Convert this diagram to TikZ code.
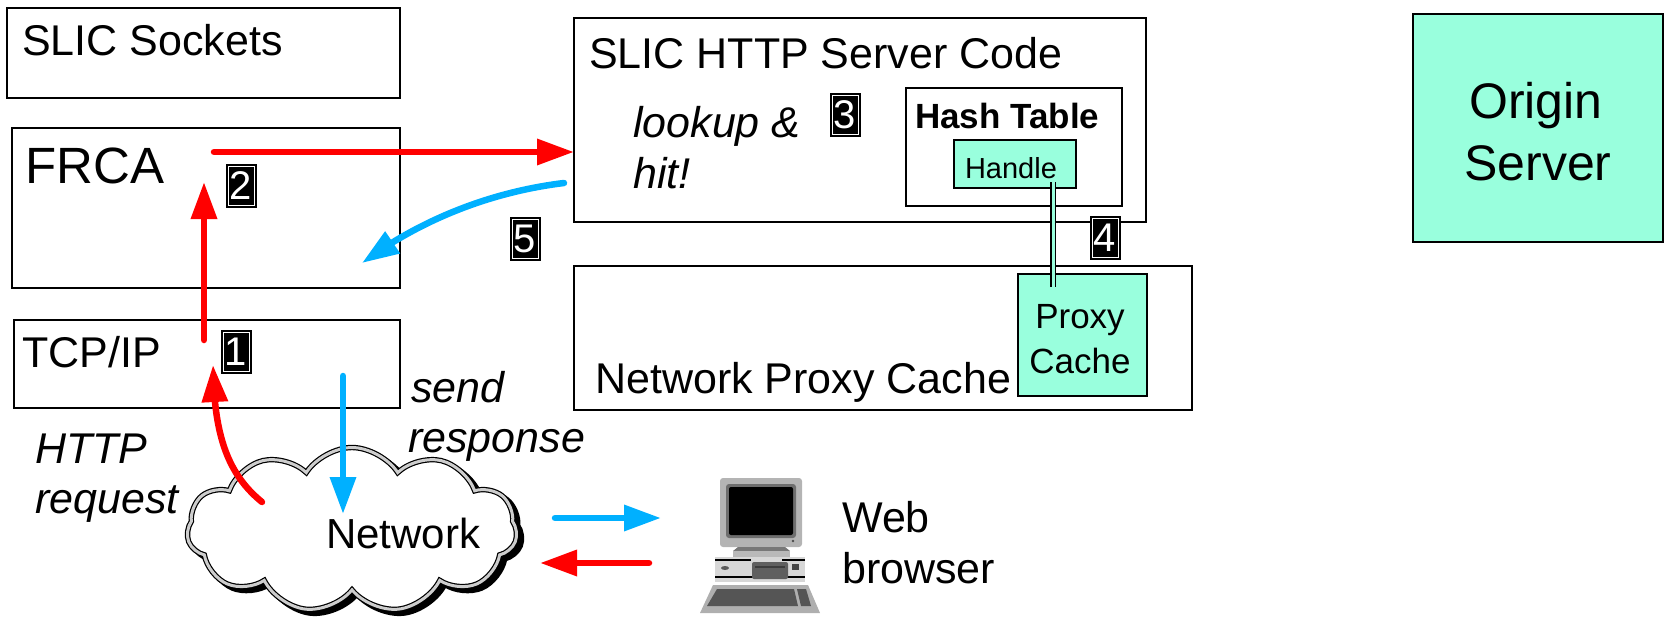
\documentclass[tikz,border=0pt]{standalone}
\usepackage{fontspec}
\setmainfont{Liberation Sans}
\usetikzlibrary{arrows.meta,shapes.symbols,bending}
\definecolor{aqua}{RGB}{153,255,221}
\definecolor{netblue}{RGB}{0,176,255}
\definecolor{netred}{RGB}{255,0,0}
\definecolor{cloudgrey}{RGB}{205,205,205}
\newcommand\sz[1]{\fontsize{#1}{#1}\selectfont}

\begin{document}
\begin{tikzpicture}[x=1pt,y=-1pt,
  box/.style={draw=black, line width=2.2pt, inner sep=0pt, outer sep=0pt, anchor=north west},
  aquabox/.style={box, fill=aqua},
  txt/.style={inner sep=0pt, anchor=base west, text=black},
  ctxt/.style={inner sep=0pt, anchor=base, text=black},
  numbox/.style={fill=black, text=white, minimum width=31pt, minimum height=44pt,
    inner sep=0pt, font=\sz{40},
    path picture={\draw[white, line width=1pt]
      ([shift={(2.5,2.5)}]path picture bounding box.north west) rectangle
      ([shift={(-2.5,-2.5)}]path picture bounding box.south east);}},
  redarrow/.style={draw=netred, line width=6.5pt, line cap=round,
    -{Triangle[length=37pt,width=25pt,flex]}},
  bluearrow/.style={draw=netblue, line width=6.5pt, line cap=round,
    -{Triangle[length=37pt,width=25pt,flex]}},
  netcloud/.style={cloud, cloud puffs=11, cloud puff arc=115, aspect=2,
    minimum width=330pt, minimum height=165pt, inner sep=0pt},
]
\useasboundingbox (0,0) rectangle (1666,621);

% ---- protocol stack boxes ----
\node[box, minimum width=393pt, minimum height=90pt]  (sock) at (7,8) {};
\node[box, minimum width=388pt, minimum height=160pt] (frca) at (12,128) {};
\node[box, minimum width=386pt, minimum height=88pt]  (tcp)  at (14,320) {};
\node[txt, font=\sz{43}] (tsock) at (22,55) {SLIC Sockets};
\node[txt, font=\sz{51}] (tfrca) at (25,183) {FRCA};
\node[txt, font=\sz{43}] (ttcp)  at (22,367) {TCP/IP};

% ---- HTTP server code with hash table ----
\node[box, minimum width=572pt, minimum height=204pt] (http) at (574,18) {};
\node[box, minimum width=216pt, minimum height=118pt] (hash) at (906,88) {};
\node[aquabox, minimum width=122pt, minimum height=48pt] (handle) at (954,140) {};
\node[txt, font=\sz{43}] (thttp) at (589,68) {SLIC HTTP Server Code};
\node[txt, font=\sz{43}\itshape] (tlook) at (633,137) {lookup \&};
\node[txt, font=\sz{43}\itshape] (thit)  at (633,188) {hit!};
\node[txt, font=\sz{35}\bfseries] (thash) at (915,128) {Hash Table};
\node[ctxt, font=\sz{29}] (thandle) at (1011,178) {Handle};

% ---- network proxy cache ----
\node[box, minimum width=618pt, minimum height=144pt] (npc) at (574,266) {};
\node[aquabox, minimum width=129pt, minimum height=122pt] (pcache) at (1018,274) {};
\node[txt, font=\sz{43}] (tnpc) at (595,393) {Network Proxy Cache};
\node[ctxt, font=\sz{35}] (tproxy) at (1080,328) {Proxy};
\node[ctxt, font=\sz{35}] (tcache) at (1080,373) {Cache};

% ---- origin server ----
\node[aquabox, minimum width=250pt, minimum height=228pt] (origin) at (1413,14) {};
\node[ctxt, font=\sz{50}] (torig) at (1536,118) {Origin};
\node[ctxt, font=\sz{50}] (tserv) at (1538,180) {Server};

% ---- handle to proxy cache link ----
\coordinate (linkA) at (1053,182);
\coordinate (linkB) at (1053,287);
\draw[draw=black, line width=1.3pt, double=aqua, double distance=3pt] (linkA) -- (linkB);

% ---- network cloud ----
\node[netcloud, fill=black, draw=black, line width=5.4pt] (cloudshadow) at (357,534) {};
\node[netcloud, fill=white, draw=black, line width=1.2pt, double=cloudgrey,
      double distance=3pt] (net) at (352,530) {};
\node[txt, font=\sz{42}] (tnet) at (326,548) {Network};

% ---- web browser computer ----
\begin{scope}
  % monitor
  \fill[rounded corners=3pt, fill={rgb,255:red,180;green,180;blue,180}] (720,478) rectangle (802,547);
  \fill[rounded corners=3pt, fill={rgb,255:red,110;green,110;blue,110}] (726,484) rectangle (796,538);
  \fill[black, rounded corners=2pt] (729,487) rectangle (793,535);
  \fill[black!70] (793,541) circle (1.3);
  % stand
  \fill[fill={rgb,255:red,120;green,120;blue,120}] (738,547) -- (785,547) -- (790,551) -- (733,551) -- cycle;
  \fill[fill={rgb,255:red,185;green,185;blue,185}] (733,551) rectangle (790,557);
  % system unit
  \fill[fill={rgb,255:red,215;green,215;blue,215}] (715,557) rectangle (805,582);
  \fill[black] (715,559) rectangle (751,561);
  \fill[black] (782,559) rectangle (805,561);
  \fill[black] (715,576) rectangle (805,578);
  \fill[fill={rgb,255:red,95;green,95;blue,95}, rounded corners=2pt] (752,562) rectangle (788,579);
  \fill[fill={rgb,255:red,60;green,60;blue,60}] (755,566) rectangle (785,568);
  \fill[fill={rgb,255:red,90;green,90;blue,90}] (725,568) ellipse (4 and 2);
  \fill[fill={rgb,255:red,70;green,70;blue,70}] (792,564) rectangle (799,570);
  % keyboard
  \fill[fill={rgb,255:red,175;green,175;blue,175}] (713,585) -- (808,585) -- (820,613) -- (700,613) -- cycle;
  \fill[fill={rgb,255:red,85;green,85;blue,85}] (717,589) -- (794,589) -- (798,606) -- (707,606) -- cycle;
  \fill[fill={rgb,255:red,85;green,85;blue,85}] (797,589) -- (806,589) -- (811,606) -- (801,606) -- cycle;
\end{scope}
\node[txt, font=\sz{43}] (tweb)  at (842,532) {Web};
\node[txt, font=\sz{43}] (tbrow) at (842,583) {browser};

% ---- request path (red) ----
\coordinate (reqStart) at (262,502);
\coordinate (tcpTip) at (213,365);
\draw[redarrow] (reqStart) .. controls (225,472) and (214,430) .. (tcpTip);
\coordinate (frcaFrom) at (204,340);
\coordinate (frcaTip) at (204,182);
\draw[redarrow] (frcaFrom) -- (frcaTip);
\coordinate (lookFrom) at (214,152);
\draw[redarrow] (lookFrom) -- (lookFrom -| http.west);
\coordinate (browFrom) at (649,563);
\coordinate (cloudIn) at (540,563);
\draw[redarrow] (browFrom) -- (cloudIn);

% ---- response path (blue) ----
\coordinate (respStart) at (564,183);
\coordinate (respTip) at (362,263);
\draw[bluearrow] (respStart) .. controls (490,192) and (420,220) .. (respTip);
\coordinate (sendFrom) at (343,376);
\coordinate (sendTip) at (343,514);
\draw[bluearrow] (sendFrom) -- (sendTip);
\coordinate (cloudOut) at (555,518);
\coordinate (browTip) at (661,518);
\draw[bluearrow] (cloudOut) -- (browTip);

% ---- labels ----
\node[txt, font=\sz{43}\itshape] (tsend) at (411,402) {send};
\node[txt, font=\sz{43}\itshape] (tresp) at (408,452) {response};
\node[txt, font=\sz{43}\itshape] (thttpreq) at (35,463) {HTTP};
\node[txt, font=\sz{43}\itshape] (treq) at (35,513) {request};

% ---- step numbers ----
\node[numbox] (n1) at (236,351.5) {1};
\node[numbox] (n2) at (241,186) {2};
\node[numbox] (n3) at (845,114.5) {3};
\node[numbox] (n4) at (1105,237.5) {4};
\node[numbox] (n5) at (525,239) {5};
\end{tikzpicture}
\end{document}
